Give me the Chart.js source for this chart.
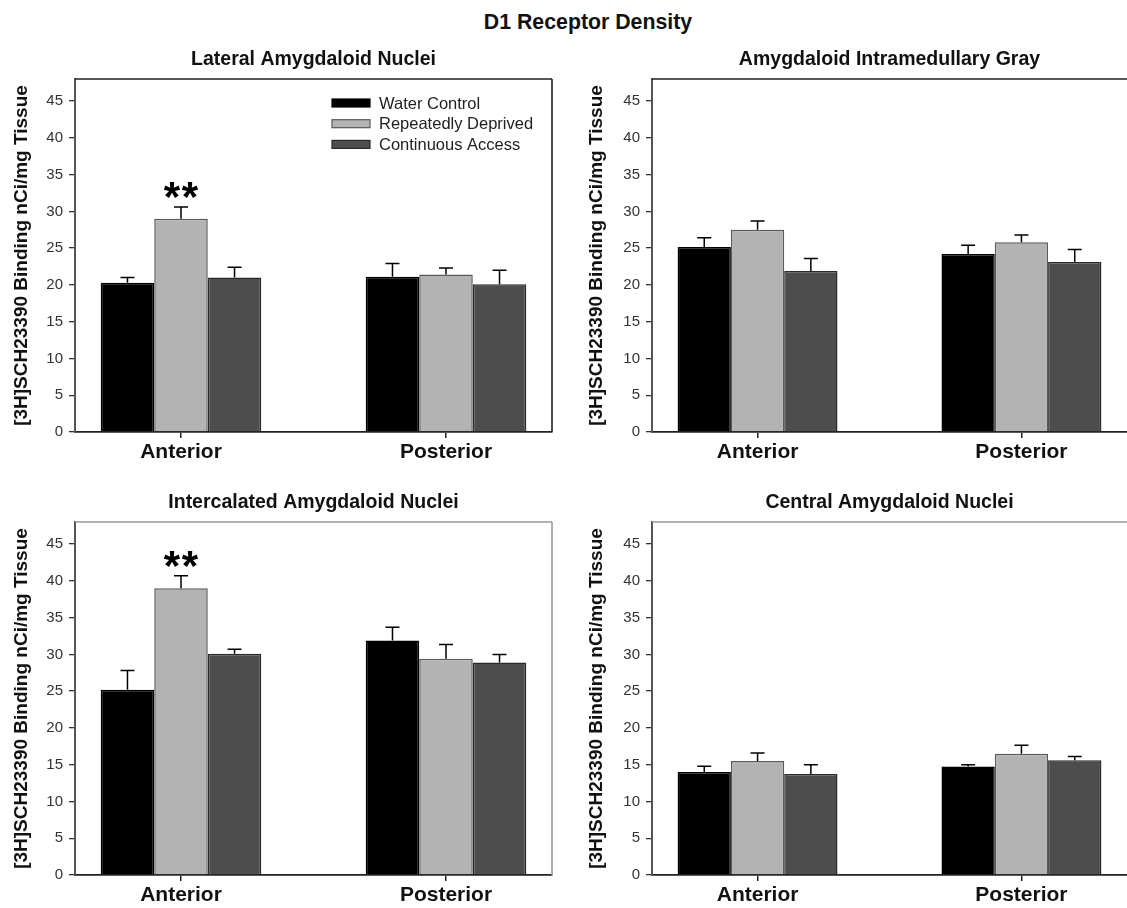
<!DOCTYPE html>
<html><head><meta charset="utf-8">
<script src="https://cdn.jsdelivr.net/npm/chart.js@4.4.1/dist/chart.umd.min.js"></script>
<style>
html,body{margin:0;padding:0;background:#fff;width:1127px;height:908px;overflow:hidden;position:relative;font-family:'Liberation Sans',Arial,sans-serif}
#mainTitle{position:absolute;left:438px;top:10px;width:300px;line-height:24px;text-align:center;font-weight:bold;font-size:21.3px;color:#111}
canvas{position:absolute}
</style></head><body>
<div id="mainTitle">D1 Receptor Density</div>
<canvas id="c0" width="563" height="470" style="left:0;top:0;width:563px;height:470px"></canvas>
<canvas id="c1" width="564" height="470" style="left:563px;top:0;width:564px;height:470px"></canvas>
<canvas id="c2" width="563" height="438" style="left:0;top:470px;width:563px;height:438px"></canvas>
<canvas id="c3" width="564" height="438" style="left:563px;top:470px;width:564px;height:438px"></canvas>
<script>
// ---------- data ----------
const categories = ['Anterior', 'Posterior'];
const seriesNames = ['Water Control', 'Repeatedly Deprived', 'Continuous Access'];
const yTicks = [0, 5, 10, 15, 20, 25, 30, 35, 40, 45];
const yAxisTitle = '[3H]SCH23390 Binding nCi/mg Tissue';
const panelTitles = ['Lateral Amygdaloid Nuclei', 'Amygdaloid Intramedullary Gray', 'Intercalated Amygdaloid Nuclei', 'Central Amygdaloid Nuclei'];

// Lateral Amygdaloid Nuclei
const lateralWater = [20.3, 21.1];
const lateralWaterSem = [0.7, 1.8];
const lateralDeprived = [29.0, 21.4];
const lateralDeprivedSem = [1.6, 0.9];
const lateralContinuous = [21.0, 20.1];
const lateralContinuousSem = [1.4, 1.9];

// Amygdaloid Intramedullary Gray
const intraWater = [25.15, 24.2];
const intraWaterSem = [1.25, 1.2];
const intraDeprived = [27.5, 25.8];
const intraDeprivedSem = [1.2, 1.0];
const intraContinuous = [21.9, 23.1];
const intraContinuousSem = [1.7, 1.7];

// Intercalated Amygdaloid Nuclei
const intercWater = [25.2, 31.9];
const intercWaterSem = [2.6, 1.8];
const intercDeprived = [39.0, 29.4];
const intercDeprivedSem = [1.7, 1.95];
const intercContinuous = [30.1, 28.9];
const intercContinuousSem = [0.6, 1.1];

// Central Amygdaloid Nuclei
const centralWater = [14.0, 14.75];
const centralWaterSem = [0.8, 0.25];
const centralDeprived = [15.5, 16.5];
const centralDeprivedSem = [1.1, 1.15];
const centralContinuous = [13.75, 15.6];
const centralContinuousSem = [1.25, 0.5];

// significance marks: [series index, category index, text]
const lateralSig = [1, 0, '**'];
const intercSig = [1, 0, '**'];

// ---------- styles ----------
const FONT = "'Liberation Sans', Arial, sans-serif";
const fills = ['#000000', '#b3b3b3', '#4d4d4d'];
const edges = ['#000000', '#5a5a5a', '#2a2a2a'];

const decor = {
  id: 'decor',
  afterDatasetsDraw(chart, args, o) {
    const ctx = chart.ctx, ys = chart.scales.y;
    chart.data.datasets.forEach((ds, di) => {
      const meta = chart.getDatasetMeta(di);
      meta.data.forEach((bar, i) => {
        const yTop = ys.getPixelForValue(ds.data[i].y + ds.sem[i]);
        ctx.save();
        ctx.strokeStyle = '#000'; ctx.lineWidth = 1.5;
        ctx.beginPath();
        ctx.moveTo(bar.x, bar.y); ctx.lineTo(bar.x, yTop);
        ctx.moveTo(bar.x - 7, yTop); ctx.lineTo(bar.x + 7, yTop);
        ctx.stroke();
        ctx.restore();
      });
    });
  },
  afterDraw(chart, args, o) {
    const ctx = chart.ctx, ys = chart.scales.y;
    const {left, right, top, bottom} = chart.chartArea;
    ctx.save();
    // top / right frame
    ctx.strokeStyle = o.frameColor; ctx.lineWidth = o.frameWidth;
    ctx.beginPath();
    ctx.moveTo(left, top); ctx.lineTo(right, top);
    if (o.drawRight) { ctx.moveTo(right, top); ctx.lineTo(right, bottom); }
    ctx.stroke();
    // panel title
    ctx.fillStyle = '#111';
    ctx.font = 'bold 19.5px ' + FONT;
    ctx.textAlign = 'center'; ctx.textBaseline = 'middle';
    ctx.fillText(o.title, (left + right) / 2, top - 19);
    // legend
    if (o.legend) {
      const x0 = left + 257, y0 = top + 24;
      chart.data.datasets.forEach((ds, i) => {
        const cy = y0 + i * 20.7;
        ctx.fillStyle = ds.backgroundColor;
        ctx.fillRect(x0, cy - 4, 38, 8);
        ctx.strokeStyle = ds.borderColor; ctx.lineWidth = 1.2;
        ctx.strokeRect(x0, cy - 4, 38, 8);
        ctx.fillStyle = '#222';
        ctx.font = '16.5px ' + FONT;
        ctx.textAlign = 'left'; ctx.textBaseline = 'middle';
        ctx.fillText(ds.label, x0 + 47, cy + 1);
      });
    }
    // significance
    if (o.sig) {
      const [si, ci, txt] = o.sig;
      const ds = chart.data.datasets[si];
      const bar = chart.getDatasetMeta(si).data[ci];
      const yTop = ys.getPixelForValue(ds.data[ci].y + ds.sem[ci]);
      ctx.fillStyle = '#000';
      ctx.font = 'bold 42px ' + FONT;
      ctx.textAlign = 'center'; ctx.textBaseline = 'alphabetic';
      const chars = txt.split('');
      const gap = 18;
      chars.forEach((c, k) => {
        const x = bar.x + (k - (chars.length - 1) / 2) * gap;
        ctx.fillText(c, x, yTop + 4);
      });
    }
    ctx.restore();
  }
};

function makePanel(id, title, means, sems, pad, yWidth, frameColor, drawRight, legend, sig) {
  const datasets = means.map((m, k) => ({
    label: seriesNames[k],
    data: m.map((v, i) => ({x: i + 1, y: v})),
    sem: sems[k],
    backgroundColor: fills[k],
    borderColor: edges[k],
    borderWidth: 1.5,
    borderSkipped: 'start',
    categoryPercentage: 0.606,
    barPercentage: 1.0
  }));
  new Chart(document.getElementById(id), {
    type: 'bar',
    data: {datasets},
    plugins: [decor],
    options: {
      responsive: false, animation: false, devicePixelRatio: 1,
      layout: {padding: pad},
      plugins: {
        legend: {display: false}, tooltip: {enabled: false}, title: {display: false},
        decor: {title, frameColor, frameWidth: 1.6, drawRight, legend, sig}
      },
      scales: {
        x: {
          type: 'linear', min: 0.6, max: 2.4, offset: false,
          afterBuildTicks: s => { s.ticks = categories.map((c, i) => ({value: i + 1})); },
          afterFit: s => { s.height = 30; },
          grid: {display: true, offset: false, drawOnChartArea: false, drawTicks: true, tickLength: 6, color: '#222', lineWidth: 1.5},
          border: {display: true, color: '#222', width: 1.8},
          ticks: {
            callback: v => categories[Math.round(v) - 1] || '',
            font: {family: FONT, size: 21, weight: 'bold'}, color: '#111', padding: 2, maxRotation: 0
          }
        },
        y: {
          min: 0, max: 48,
          afterBuildTicks: s => { s.ticks = yTicks.map(v => ({value: v})); },
          afterFit: s => { s.width = yWidth; },
          grid: {display: true, drawOnChartArea: false, drawTicks: true, tickLength: 6, color: '#333', lineWidth: 1.3},
          border: {display: true, color: '#555', width: 2},
          ticks: {font: {family: FONT, size: 15}, color: '#333', padding: 6},
          title: {display: true, text: yAxisTitle, font: {family: FONT, size: 19, weight: 'bold'}, color: '#111', padding: {top: 10, bottom: 0}}
        }
      }
    }
  });
}

makePanel('c0', panelTitles[0],
  [lateralWater, lateralDeprived, lateralContinuous],
  [lateralWaterSem, lateralDeprivedSem, lateralContinuousSem],
  {left: 0, top: 79, right: 11, bottom: 8}, 75, '#222', true, true, lateralSig);
makePanel('c1', panelTitles[1],
  [intraWater, intraDeprived, intraContinuous],
  [intraWaterSem, intraDeprivedSem, intraContinuousSem],
  {left: 12, top: 79, right: 0, bottom: 8}, 77, '#222', false, false, null);
makePanel('c2', panelTitles[2],
  [intercWater, intercDeprived, intercContinuous],
  [intercWaterSem, intercDeprivedSem, intercContinuousSem],
  {left: 0, top: 52, right: 11, bottom: 3}, 75, '#999', true, false, intercSig);
makePanel('c3', panelTitles[3],
  [centralWater, centralDeprived, centralContinuous],
  [centralWaterSem, centralDeprivedSem, centralContinuousSem],
  {left: 12, top: 52, right: 0, bottom: 3}, 77, '#999', false, false, null);
</script>
</body></html>
